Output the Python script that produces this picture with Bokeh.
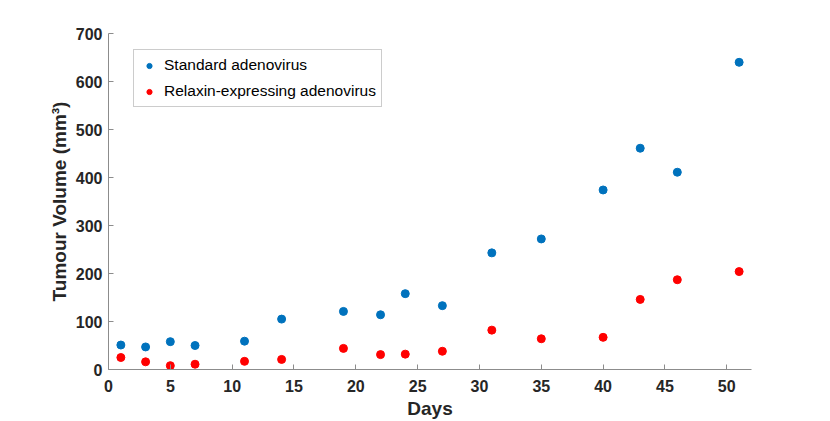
from bokeh.plotting import figure
from bokeh.models import Range1d, FixedTicker, Legend, LegendItem
from bokeh.embed import file_html
from bokeh.resources import INLINE

days = [1, 3, 5, 7, 11, 14, 19, 22, 24, 27, 31, 35, 40, 43, 46, 51]
standard = [51, 47, 58, 50, 59, 105, 121, 114, 158, 133, 243, 272, 374, 461, 411, 640]
relaxin = [25, 16, 8, 11, 17, 21, 44, 31, 32, 38, 82, 64, 67, 146, 187, 204]
x_ticks = [0, 5, 10, 15, 20, 25, 30, 35, 40, 45, 50]
y_ticks = [0, 100, 200, 300, 400, 500, 600, 700]
series_names = ["Standard adenovirus", "Relaxin-expressing adenovirus"]

FONT = "Liberation Sans"
AX = "#262626"
GRAY = "#8c8c8c"

p = figure(width=814, height=421, output_backend="svg", toolbar_location=None,
           x_range=Range1d(0, 52), y_range=Range1d(0, 700),
           min_border_left=108, min_border_right=63, min_border_top=33,
           min_border_bottom=0)
p.outline_line_color = None
p.grid.visible = False
p.background_fill_color = "white"
p.border_fill_color = "white"

r1 = p.scatter(days, standard, size=8, color="#0072BD")
r2 = p.scatter(days, relaxin, size=8, color="#FF0000")

for ax in (p.xaxis[0], p.yaxis[0]):
    ax.axis_line_color = GRAY
    ax.major_tick_line_color = GRAY
    ax.major_tick_in = 5
    ax.major_tick_out = 0
    ax.minor_tick_line_color = None
    ax.major_label_text_font = FONT
    ax.major_label_text_font_style = "bold"
    ax.major_label_text_font_size = "16px"
    ax.major_label_text_color = AX
    ax.axis_label_text_font = FONT
    ax.axis_label_text_font_style = "bold"
    ax.axis_label_text_font_size = "19px"
    ax.axis_label_text_color = AX

p.xaxis.ticker = FixedTicker(ticks=x_ticks)
p.yaxis.ticker = FixedTicker(ticks=y_ticks)
p.xaxis.axis_label = "Days"
p.yaxis.axis_label = "Tumour Volume (mm³)"
p.xaxis.major_label_standoff = 10
p.xaxis.axis_label_standoff = 3
p.yaxis.major_label_standoff = 6
p.yaxis.axis_label_standoff = 3

legend = Legend(items=[LegendItem(label=series_names[0], renderers=[r1]),
                       LegendItem(label=series_names[1], renderers=[r2])],
                location=(25, 262), orientation="vertical")
legend.label_text_font = FONT
legend.label_text_font_size = "15.5px"
legend.label_text_color = "#000000"
legend.border_line_color = "#999999"
legend.border_line_width = 1
legend.background_fill_alpha = 1
legend.padding = 5
legend.spacing = 6
legend.glyph_width = 20
legend.glyph_height = 13
legend.label_height = 20
legend.label_standoff = 5
legend.margin = 0
p.add_layout(legend)

open("out.html", "w").write(file_html(p, INLINE))
